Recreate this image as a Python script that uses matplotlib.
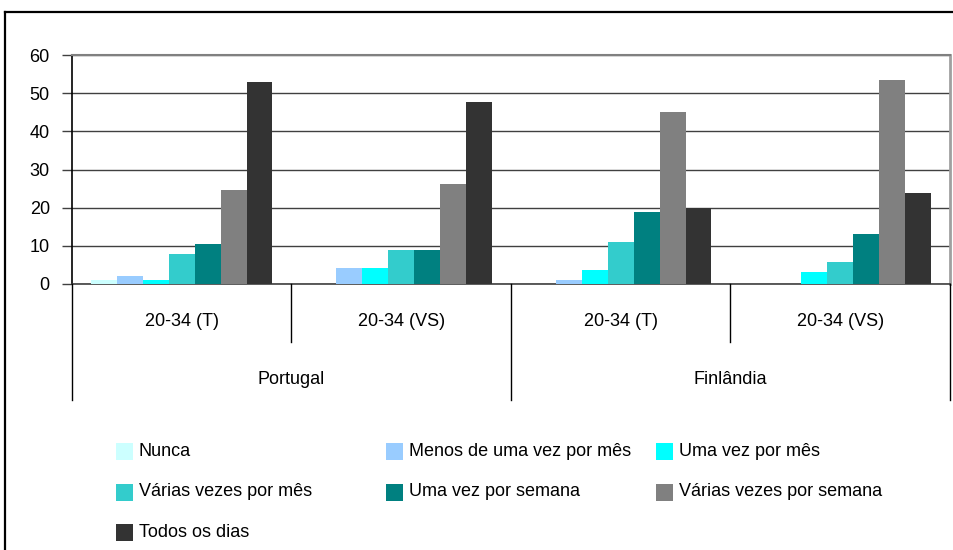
import numpy as np
import matplotlib
matplotlib.use('Agg')
import matplotlib.pyplot as plt
from matplotlib.lines import Line2D
from matplotlib.patches import Rectangle
from matplotlib.transforms import blended_transform_factory

plt.rcParams['font.family'] = ['Liberation Sans', 'DejaVu Sans']

# Data
subgroups = ['20-34 (T)', '20-34 (VS)', '20-34 (T)', '20-34 (VS)']
countries = ['Portugal', 'Finlândia']

nunca = [1.0, 0, 0, 0]
menos_mes = [2.2, 4.2, 1.0, 0]
uma_mes = [1.0, 4.2, 3.7, 3.1]
varias_mes = [7.9, 8.9, 11.0, 5.8]
uma_semana = [10.5, 8.9, 18.8, 13.1]
varias_semana = [24.6, 26.2, 45.0, 53.4]
todos_dias = [52.9, 47.6, 19.9, 23.8]

series = [
    ('Nunca', nunca, '#CCFFFF'),
    ('Menos de uma vez por mês', menos_mes, '#99CCFF'),
    ('Uma vez por mês', uma_mes, '#00FFFF'),
    ('Várias vezes por mês', varias_mes, '#33CCCC'),
    ('Uma vez por semana', uma_semana, '#008080'),
    ('Várias vezes por semana', varias_semana, '#808080'),
    ('Todos os dias', todos_dias, '#333333'),
]

W, H = 954, 550


def fx(px):
    return px / W


def fy(py):
    return 1 - py / H


fig = plt.figure(figsize=(W / 100, H / 100), dpi=100)
ax = fig.add_axes([fx(72), fy(284), (950 - 72) / W, (284 - 55) / H])

x = np.arange(len(subgroups)) + 0.5
w = 0.118
for i, (name, vals, color) in enumerate(series):
    ax.bar(x + (i - 3) * w, vals, width=w, color=color, linewidth=0, zorder=3)

ax.set_xlim(0, 4)
ax.set_ylim(0, 60)
ax.set_yticks(range(0, 61, 10))
ax.set_xticks([])
ax.yaxis.grid(True, color='#404040', linewidth=1.0, zorder=0)
ax.set_axisbelow(True)
ax.tick_params(axis='y', length=7, width=1, color='#404040', pad=9, labelsize=13)

ax.spines['left'].set_color('black')
ax.spines['left'].set_linewidth(1.2)
ax.spines['bottom'].set_color('#404040')
ax.spines['bottom'].set_linewidth(1.2)
ax.spines['top'].set_color('#808080')
ax.spines['top'].set_linewidth(1.5)
ax.spines['right'].set_color('#a0a0a0')
ax.spines['right'].set_linewidth(2)

# Multi-level category axis
trans = blended_transform_factory(ax.transData, fig.transFigure)
for k in range(len(subgroups) + 1):
    bottom = 400 if k % 2 == 0 else 342
    fig.add_artist(Line2D([k, k], [fy(284), fy(bottom)], transform=trans,
                          color='black', linewidth=1))
for k, lab in enumerate(subgroups):
    fig.text(k + 0.5, fy(322), lab, transform=trans, ha='center', va='center', fontsize=13)
for k, lab in enumerate(countries):
    fig.text(2 * k + 1, fy(380), lab, transform=trans, ha='center', va='center', fontsize=13)

# Legend laid out like the spreadsheet one
for i, (name, vals, color) in enumerate(series):
    col, row = i % 3, i // 3
    xm = 116 + col * 270
    ym = 451.5 + row * 40.5
    fig.add_artist(Rectangle((fx(xm), fy(ym + 8.5)), 17 / W, 17 / H,
                             transform=fig.transFigure, color=color, linewidth=0))
    fig.text(fx(xm + 23), fy(ym), name, ha='left', va='center', fontsize=13)

# Outer frame
fig.add_artist(Line2D([fx(5), fx(5)], [fy(12), 0], transform=fig.transFigure,
                      color='black', linewidth=1.6))
fig.add_artist(Line2D([fx(5), 1], [fy(12), fy(12)], transform=fig.transFigure,
                      color='black', linewidth=1.6))

fig.savefig('out.png', dpi=100)
